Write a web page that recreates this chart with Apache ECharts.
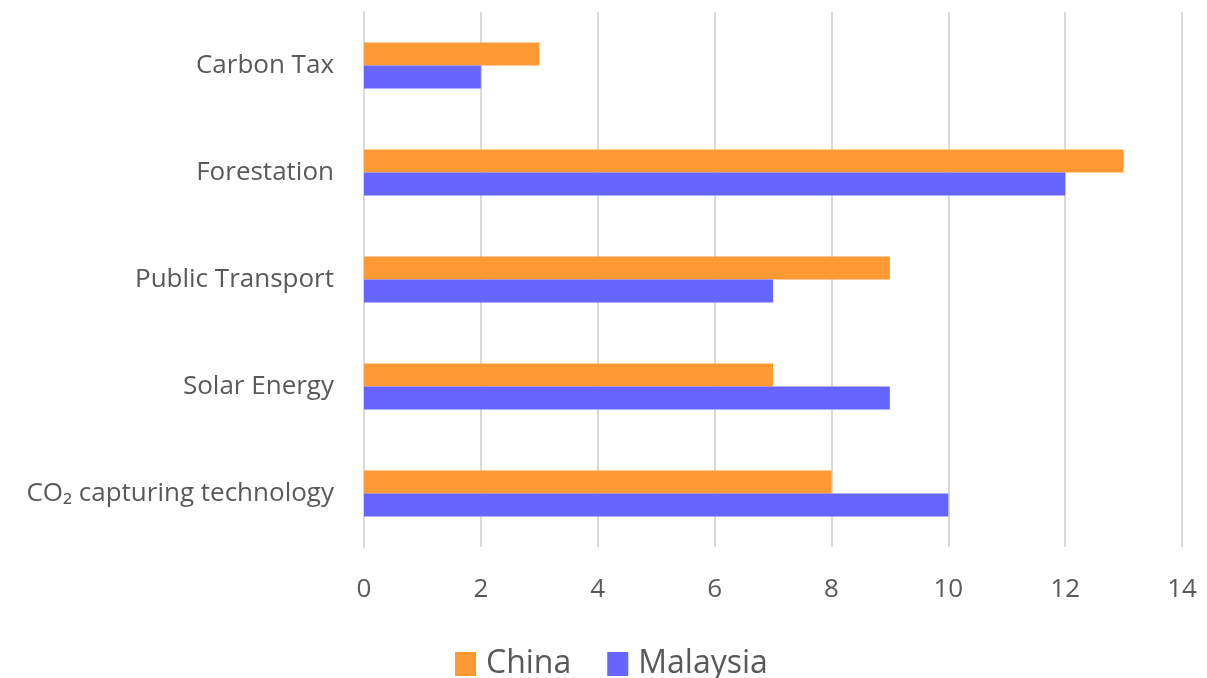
<!DOCTYPE html>
<html>
<head>
<meta charset="utf-8">
<script src="https://cdn.jsdelivr.net/npm/echarts@6/dist/echarts.min.js"></script>
<style>html,body{margin:0;padding:0;background:#fff}#c{width:1207px;height:678px}</style>
</head>
<body>
<div id="c"></div>
<script>
const categories = ['Carbon Tax', 'Forestation', 'Public Transport', 'Solar Energy', 'CO\u2082 capturing technology'];
const china = [3, 13, 9, 7, 8];
const malaysia = [2, 12, 7, 9, 10];
const xTicks = { min: 0, max: 14, interval: 2 };

const chart = echarts.init(document.getElementById('c'));
chart.setOption({
  animation: false,
  grid: { left: 364, right: 25, top: 12, bottom: 131, containLabel: false },
  legend: {
    top: 643, left: 450,
    itemWidth: 21, itemHeight: 24, itemGap: 36,
    icon: 'rect',
    data: ['China', 'Malaysia'],
    textStyle: { fontFamily: 'Open Sans', fontSize: 32, color: '#595959', padding: [0, 0, 0, 5] }
  },
  xAxis: {
    type: 'value', min: xTicks.min, max: xTicks.max, interval: xTicks.interval,
    axisLine: { show: false }, axisTick: { show: false },
    splitLine: { lineStyle: { color: '#d9d9d9', width: 2 } },
    axisLabel: { fontFamily: 'Open Sans', fontSize: 26, color: '#595959', margin: 30 }
  },
  yAxis: {
    type: 'category', data: categories, inverse: true,
    axisLine: { show: true, lineStyle: { color: '#d9d9d9', width: 2 } },
    axisTick: { show: false },
    axisLabel: { fontFamily: 'Open Sans', fontSize: 26, color: '#595959', margin: 30 }
  },
  series: [
    { name: 'China', type: 'bar', data: china, barWidth: 23, barGap: '0%', itemStyle: { color: '#ff9933' } },
    { name: 'Malaysia', type: 'bar', data: malaysia, barWidth: 23, barGap: '0%', itemStyle: { color: '#6666ff' } }
  ]
});
</script>
</body>
</html>
